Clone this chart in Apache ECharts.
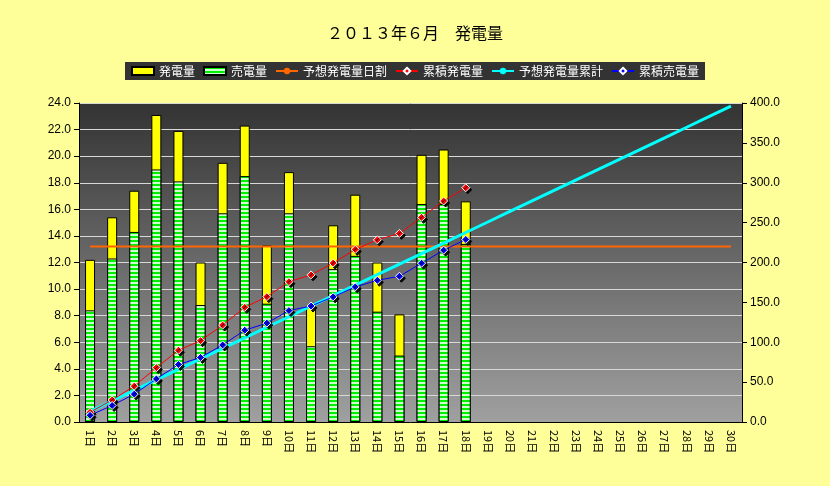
<!DOCTYPE html>
<html>
<head>
<meta charset="utf-8">
<script src="https://cdn.jsdelivr.net/npm/echarts@6/dist/echarts.min.js"></script>
<style>html,body{margin:0;padding:0;background:#FFFF99;}</style>
</head>
<body>
<div id="main" style="width:830px;height:486px;"></div>
<script>
// 日付
var days = [];
for (var d = 1; d <= 30; d++) days.push(d + '日');
// 発電量 (kWh)
var hatsuden = [12.2, 15.4, 17.4, 23.1, 21.9, 12.0, 19.5, 22.3, 13.3, 18.8, 8.6, 14.8, 17.1, 12.0, 8.1, 20.1, 20.5, 16.6];
// 売電量
var baiden = [8.4, 12.3, 14.3, 19.0, 18.1, 8.8, 15.7, 18.5, 8.9, 15.7, 5.7, 11.5, 12.5, 8.3, 5.0, 16.4, 16.4, 13.4];
// 予想発電量日割
var yosouDay = [13.2, 13.2, 13.2, 13.2, 13.2, 13.2, 13.2, 13.2, 13.2, 13.2, 13.2, 13.2, 13.2, 13.2, 13.2,
                13.2, 13.2, 13.2, 13.2, 13.2, 13.2, 13.2, 13.2, 13.2, 13.2, 13.2, 13.2, 13.2, 13.2, 13.2];
// 累積発電量
var ruisekiHatsuden = [12.2, 27.6, 45.0, 68.1, 90.0, 102.0, 121.5, 143.8, 157.1, 175.9, 184.5, 199.3, 216.4, 228.4, 236.5, 256.6, 277.1, 293.7];
// 予想発電量累計
var yosouRuikei = [13.2, 26.4, 39.6, 52.8, 66.0, 79.2, 92.4, 105.6, 118.8, 132.0, 145.2, 158.4, 171.6, 184.8, 198.0,
                   211.2, 224.4, 237.6, 250.8, 264.0, 277.2, 290.4, 303.6, 316.8, 330.0, 343.2, 356.4, 369.6, 382.8, 396.0];
// 累積売電量
var ruisekiBaiden = [8.4, 20.7, 35.0, 54.0, 72.1, 80.9, 96.6, 115.1, 124.0, 139.7, 145.4, 156.9, 169.4, 177.7, 182.7, 199.1, 215.5, 228.9];

// 売電量の縞模様
var pat = document.createElement('canvas');
pat.width = 4; pat.height = 4;
var ctx = pat.getContext('2d');
ctx.fillStyle = '#ccffcc'; ctx.fillRect(0, 0, 4, 4);
ctx.fillStyle = '#00ee00'; ctx.fillRect(0, 0, 4, 2);

var myChart = echarts.init(document.getElementById('main'));
var markShadow = {shadowColor: 'rgba(0,0,0,0.9)', shadowOffsetX: 2, shadowOffsetY: 2, shadowBlur: 0};
myChart.setOption({
    backgroundColor: '#FFFF99',
    animation: false,
    title: {
        text: '２０１３年６月　発電量',
        left: 'center', top: 20,
        textStyle: {fontSize: 16, fontWeight: 'normal', color: '#000', fontFamily: 'Noto Sans CJK JP'}
    },
    legend: {
        top: 62, left: 'center',
        backgroundColor: '#333333',
        padding: [3, 6],
        itemGap: 8, itemWidth: 22, itemHeight: 8,
        textStyle: {color: '#fff', fontSize: 12, fontFamily: 'Noto Sans CJK JP'},
        data: [
            {name: '発電量', icon: 'rect'},
            {name: '売電量', icon: 'rect'},
            '予想発電量日割', '累積発電量', '予想発電量累計', '累積売電量'
        ]
    },
    grid: {
        left: 79, right: 88, top: 103, bottom: 64,
        show: true, borderWidth: 0,
        backgroundColor: new echarts.graphic.LinearGradient(0, 0, 0, 1, [
            {offset: 0, color: '#333333'}, {offset: 1, color: '#a0a0a0'}
        ])
    },
    xAxis: {
        type: 'category', data: days,
        axisLine: {lineStyle: {color: '#000'}},
        axisTick: {lineStyle: {color: '#000'}},
        axisLabel: {rotate: -90, color: '#000', fontSize: 11, interval: 0, fontFamily: 'Noto Sans CJK JP'}
    },
    yAxis: [
        {
            type: 'value', min: 0, max: 24, interval: 2,
            axisLine: {show: true, lineStyle: {color: '#000'}},
            axisTick: {show: true},
            axisLabel: {color: '#000', fontSize: 12, formatter: function (v) { return v.toFixed(1); }},
            splitLine: {lineStyle: {color: '#d8d8d8'}}
        },
        {
            type: 'value', min: 0, max: 400, interval: 50,
            axisLine: {show: true, lineStyle: {color: '#000'}},
            axisTick: {show: true},
            axisLabel: {color: '#000', fontSize: 12, formatter: function (v) { return v.toFixed(1); }},
            splitLine: {show: false}
        }
    ],
    series: [
        {
            name: '発電量', type: 'bar', data: hatsuden, barWidth: 10,
            itemStyle: {color: '#ffff00', borderColor: '#000', borderWidth: 1}
        },
        {
            name: '売電量', type: 'bar', data: baiden, barWidth: 10, barGap: '-100%',
            itemStyle: {color: {image: pat, repeat: 'repeat'}, borderColor: '#000', borderWidth: 1}
        },
        {
            name: '予想発電量日割', type: 'line', data: yosouDay, symbol: 'none',
            lineStyle: {color: '#ff6600', width: 2}, itemStyle: {color: '#ff6600'}
        },
        {
            name: '予想発電量累計', type: 'line', yAxisIndex: 1, data: yosouRuikei, symbol: 'none',
            lineStyle: {color: '#00ffff', width: 3}, itemStyle: {color: '#00ffff'}
        },
        {
            name: '累積発電量', type: 'line', yAxisIndex: 1, data: ruisekiHatsuden,
            symbol: 'diamond', symbolSize: 8,
            lineStyle: {color: '#ff0000', width: 1},
            itemStyle: Object.assign({color: '#ff0000', borderColor: '#fff', borderWidth: 1}, markShadow)
        },
        {
            name: '累積売電量', type: 'line', yAxisIndex: 1, data: ruisekiBaiden,
            symbol: 'diamond', symbolSize: 8,
            lineStyle: {color: '#0000ff', width: 1},
            itemStyle: Object.assign({color: '#0000ff', borderColor: '#fff', borderWidth: 1}, markShadow)
        }
    ]
});
</script>
</body>
</html>
